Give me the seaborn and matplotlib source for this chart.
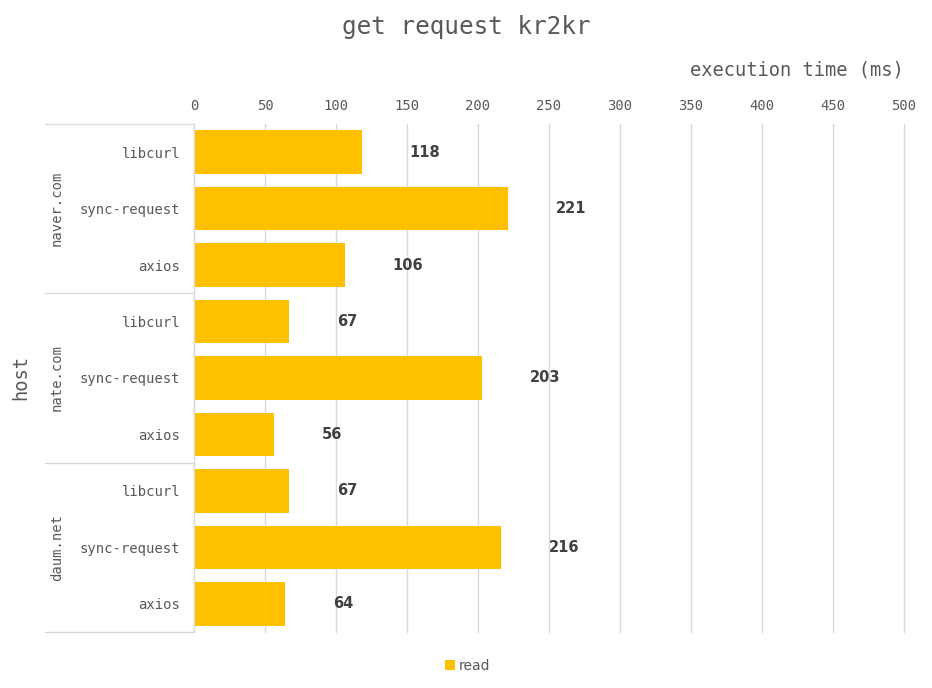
import pandas as pd
import matplotlib.pyplot as plt
import seaborn as sns

# data
hosts = ['naver.com', 'nate.com', 'daum.net']
libs = ['libcurl', 'sync-request', 'axios']
naver_ms = [118, 221, 106]
nate_ms = [67, 203, 56]
daum_ms = [67, 216, 64]
xticks = [0, 50, 100, 150, 200, 250, 300, 350, 400, 450, 500]

rows = []
for host, vals in zip(hosts, [naver_ms, nate_ms, daum_ms]):
    for lib, v in zip(libs, vals):
        rows.append({'key': host + '/' + lib, 'lib': lib, 'host': host,
                     'time': v, 'series': 'read'})
df = pd.DataFrame(rows)

sns.set_style('white')
mono = 'DejaVu Sans Mono'
txt = '#595959'
grid_c = '#d9d9d9'
bar_c = '#FFC000'

fig = plt.figure(figsize=(9.32, 6.88), dpi=100)
ax = fig.add_axes([194 / 932, 1 - 632 / 688, 710 / 932, 508 / 688])

sns.barplot(data=df, x='time', y='key', hue='series', palette=[bar_c],
            width=0.77, saturation=1, linewidth=0, ax=ax, legend=True)

ax.set_xlim(0, 500)
ax.set_ylim(len(df) - 0.5, -0.5)
ax.xaxis.tick_top()
ax.set_xticks(xticks)
ax.set_xticklabels([str(t) for t in xticks], family=mono, fontsize=10, color=txt)
ax.tick_params(axis='both', length=0, pad=8)
ax.set_yticks(range(len(df)))
ax.set_yticklabels(df['lib'], family=mono, fontsize=10, color=txt)
ax.tick_params(axis='y', pad=10)
ax.grid(axis='x', color=grid_c, linewidth=1)
for gl in ax.get_xgridlines():
    gl.set_clip_on(False)
ax.set_axisbelow(True)
for s in ['top', 'right', 'bottom']:
    ax.spines[s].set_visible(False)
ax.spines['left'].set_color(grid_c)
ax.set_xlabel('')
ax.set_ylabel('')

# group separators and host labels
tr = ax.get_yaxis_transform()
left_x = (45 - 194) / 710
for b in [-0.5, 2.5, 5.5, 8.5]:
    ax.plot([left_x, 0], [b, b], color=grid_c, linewidth=1, transform=tr, clip_on=False)
for g, host in enumerate(hosts):
    ax.text((57 - 194) / 710, g * 3 + 1, host, transform=tr, rotation=90,
            ha='center', va='center', family=mono, fontsize=10, color=txt)

# value labels
for i, v in enumerate(df['time']):
    ax.annotate(str(v), (v, i), xytext=(34.5, 0), textcoords='offset points',
                ha='left', va='center', fontsize=10.5, fontweight='bold',
                color='#404040', family='DejaVu Sans')

fig.text(466 / 932, 1 - 27 / 688, 'get request kr2kr', ha='center', va='center',
         family=mono, fontsize=17.5, color=txt)
fig.text(904 / 932, 1 - 70 / 688, 'execution time (ms)', ha='right', va='center',
         family=mono, fontsize=13.5, color=txt)
fig.text(21 / 932, 1 - 377 / 688, 'host', ha='center', va='center', rotation=90,
         family=mono, fontsize=13.5, color=txt)

ax.get_legend().remove()
leg = fig.legend(*ax.get_legend_handles_labels(), loc='center',
                 bbox_to_anchor=(468 / 932, 1 - 666 / 688), frameon=False,
                 handlelength=0.7, handleheight=0.7, handletextpad=0.3,
                 prop={'family': 'DejaVu Sans', 'size': 10})
for t in leg.get_texts():
    t.set_color(txt)

fig.savefig('out.png', dpi=100)
